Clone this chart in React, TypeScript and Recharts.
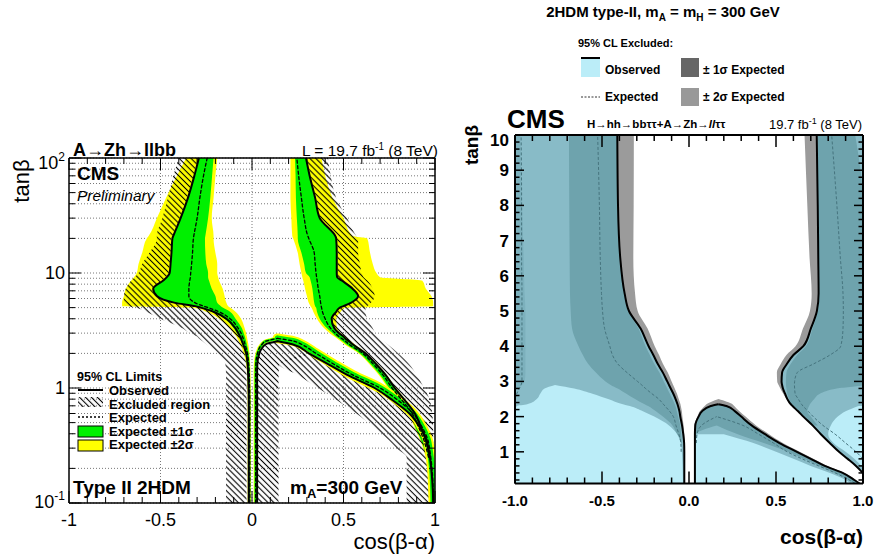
import React from 'react';
import { ComposedChart, Area, Line, XAxis, YAxis, CartesianGrid } from 'recharts';

const FONT = '"Liberation Sans", Arial, Helvetica, sans-serif';
const nul = (n: number) => Array(n).fill(null);
const rep = (v: any, n: number) => Array(n).fill(v);
const rng = (p: any) => (p ? p : [null, null]);

// ---------------- ticks ----------------
const xTicks = [-1, -0.9, -0.8, -0.7, -0.6, -0.5, -0.4, -0.3, -0.2, -0.1, 0, 0.1, 0.2, 0.3, 0.4, 0.5, 0.6, 0.7, 0.8, 0.9, 1];
const xMajors = [-1, -0.5, 0, 0.5, 1];
const leftXLabels = ['-1', '-0.5', '0', '0.5', '1'];
const rightXLabels = ['-1.0', '-0.5', '0.0', '0.5', '1.0'];
const leftYTicks = [0.1, 0.2, 0.3, 0.4, 0.5, 0.6, 0.7, 0.8, 0.9, 1, 2, 3, 4, 5, 6, 7, 8, 9, 10, 20, 30, 40, 50, 60, 70, 80, 90, 100];
const leftYMajors = [0.1, 1, 10, 100];
const leftYLabelBase = ['10', '1', '10', '10'];
const leftYLabelSup = ['-1', '', '', '2'];
const leftYLabelDy = [5, 6, 6, 11];
const rightYTicks = Array.from({ length: 50 }, (_, i) => Math.round((i + 1) * 2) / 10);
const rightYMajors = [1, 2, 3, 4, 5, 6, 7, 8, 9, 10];
const rightYLabels = ['1', '2', '3', '4', '5', '6', '7', '8', '9', '10'];
const rightYLabelDy = [6, 6, 6, 6, 6, 6, 6, 6, 6, 11];

// ---------------- left panel data (A->Zh->llbb), x = cos(b-a) ranges at each tanb ----------------
const leftY = [0.1, 0.13, 0.18, 0.25, 0.3, 0.35, 0.45, 0.6, 0.8, 1, 1.3, 1.6, 2, 2.4, 2.55, 2.7, 2.8, 3, 3.3, 4, 4.6, 5, 5.15, 5.5, 6.3, 7.3, 8.6, 9.2, 10, 12, 15, 20, 21, 30, 45, 70, 100];

const obsL = [...rep(-0.018, 9), -0.019, -0.021, -0.024, -0.032, -0.048, -0.055, -0.06, -0.065, -0.075, -0.09, -0.14, -0.21, -0.28, -0.31, -0.42, -0.52, -0.54, -0.485, -0.465, -0.45, -0.445, -0.44, -0.435, -0.43, -0.39, -0.35, -0.315, -0.29];
const expL = [...rep(-0.012, 9), -0.013, -0.015, -0.018, -0.025, -0.038, -0.043, -0.048, -0.052, -0.06, -0.075, -0.12, -0.18, -0.24, -0.265, -0.31, -0.345, -0.345, -0.34, -0.337, -0.335, -0.33, -0.325, -0.32, -0.318, -0.3, -0.285, -0.265, -0.245];
const s1L = [...rep([-0.021, -0.009], 9), [-0.022, -0.01], [-0.024, -0.011], [-0.028, -0.013],
  [-0.037, -0.018], [-0.053, -0.028], [-0.06, -0.032], [-0.066, -0.036], [-0.072, -0.039],
  [-0.082, -0.045], [-0.1, -0.055], [-0.15, -0.09], [-0.22, -0.12],
  [-0.29, -0.16], [-0.31, -0.17], [-0.42, -0.19],
  [-0.52, -0.2], [-0.54, -0.22], [-0.485, -0.235], [-0.465, -0.24],
  [-0.45, -0.24], [-0.445, -0.25], [-0.44, -0.255], [-0.435, -0.257], [-0.43, -0.255],
  [-0.39, -0.24], [-0.35, -0.228], [-0.315, -0.218], [-0.29, -0.21]];
const s2L = [...rep([-0.024, -0.006], 9), [-0.025, -0.007], [-0.027, -0.008], [-0.032, -0.01],
  [-0.045, -0.014], [-0.065, -0.02], [-0.072, -0.023], [-0.08, -0.026], [-0.085, -0.028],
  [-0.1, -0.032], [-0.12, -0.04], [-0.18, -0.06], [-0.25, -0.09],
  [-0.33, -0.12], [-0.71, -0.13], [-0.71, -0.14],
  [-0.7, -0.15], [-0.69, -0.16], [-0.66, -0.18], [-0.645, -0.185],
  [-0.63, -0.19], [-0.62, -0.19], [-0.6, -0.2], [-0.575, -0.21], [-0.565, -0.21],
  [-0.52, -0.22], [-0.47, -0.21], [-0.41, -0.2], [-0.36, -0.19]];
const hatchL = [...rep([-0.142, -0.03], 11), [-0.145, -0.032],
  [-0.19, -0.04], [-0.25, -0.055], [-0.27, -0.06], [-0.29, -0.065], [-0.3, -0.07],
  [-0.34, -0.08], [-0.38, -0.095], [-0.5, -0.145], [-0.58, -0.215],
  [-0.64, -0.285], [-0.68, -0.315], [-0.7, -0.425],
  [-0.7, -0.525], [-0.69, -0.545], [-0.66, -0.49], [-0.64, -0.47],
  [-0.62, -0.455], [-0.6, -0.45], [-0.56, -0.445], [-0.52, -0.44], [-0.52, -0.435],
  [-0.49, -0.395], [-0.46, -0.355], [-0.43, -0.32], [-0.4, -0.295]];

const obsR = [...nul(3), 0.972, 0.962, 0.95, 0.925, 0.89, 0.83, 0.78, 0.73, 0.68, 0.62, 0.55, 0.53, 0.51, 0.5, 0.475, 0.45, 0.435, 0.46, 0.48, 0.5, 0.54, 0.58, 0.55, 0.49, 0.465, 0.463, 0.463, 0.463, 0.46, 0.455, 0.37, 0.345, 0.315, 0.295];
const expR = [...nul(3), 0.965, 0.952, 0.94, 0.912, 0.875, 0.815, 0.765, 0.715, 0.665, 0.605, 0.53, 0.51, 0.49, 0.475, 0.455, 0.43, 0.4, 0.385, 0.38, 0.378, 0.375, 0.37, 0.362, 0.356, 0.353, 0.35, 0.345, 0.34, 0.31, 0.305, 0.285, 0.27, 0.255, 0.245];
const s1R = [...nul(3),
  [0.955, 0.975], [0.94, 0.965], [0.925, 0.953], [0.895, 0.928], [0.86, 0.893], [0.8, 0.833],
  [0.75, 0.783], [0.7, 0.733], [0.65, 0.683],
  [0.59, 0.623], [0.515, 0.553], [0.495, 0.533], [0.475, 0.513], [0.46, 0.503],
  [0.44, 0.478], [0.41, 0.453], [0.37, 0.44], [0.355, 0.463],
  [0.35, 0.483], [0.345, 0.503], [0.34, 0.543],
  [0.335, 0.583], [0.33, 0.553], [0.32, 0.493], [0.315, 0.468],
  [0.295, 0.466], [0.285, 0.466], [0.27, 0.466], [0.25, 0.463], [0.25, 0.458],
  [0.245, 0.373], [0.24, 0.348], [0.238, 0.318], [0.235, 0.298]];
const s2R = [...nul(3),
  [0.95, 0.98], [0.935, 0.97], [0.92, 0.958], [0.89, 0.932], [0.853, 0.897], [0.793, 0.837],
  [0.743, 0.787], [0.693, 0.737], [0.643, 0.687],
  [0.583, 0.627], [0.505, 0.56], [0.485, 0.54], [0.465, 0.52], [0.45, 0.51],
  [0.425, 0.485], [0.395, 0.465], [0.355, 0.46], [0.335, 0.485],
  [0.325, 0.51], [0.32, 0.99], [0.31, 0.99],
  [0.3, 0.98], [0.29, 0.95], [0.28, 0.93], [0.275, 0.7],
  [0.27, 0.68], [0.26, 0.66], [0.25, 0.645], [0.225, 0.63], [0.22, 0.55],
  [0.215, 0.5], [0.21, 0.44], [0.21, 0.4], [0.21, 0.38]];
const hatchR = [...nul(3),
  [0.976, 0.99], [0.966, 0.99], [0.955, 0.99], [0.93, 0.99], [0.895, 0.985], [0.835, 0.97],
  [0.785, 0.94], [0.735, 0.9], [0.685, 0.86],
  [0.625, 0.8], [0.555, 0.74], [0.535, 0.72], [0.515, 0.7], [0.505, 0.69],
  [0.48, 0.675], [0.455, 0.66], [0.44, 0.63], [0.465, 0.62],
  [0.485, 0.62], [0.505, 0.63], [0.545, 0.65],
  [0.585, 0.67], [0.555, 0.66], [0.495, 0.63], [0.47, 0.61],
  [0.468, 0.6], [0.468, 0.59], [0.468, 0.58], [0.465, 0.58], [0.46, 0.57],
  [0.375, 0.52], [0.35, 0.46], [0.32, 0.43], [0.3, 0.415]];

const bumpObsL = [...rep(0.028, 11), 0.029, 0.04, 0.075, 0.14, ...nul(22)];
const bumpObsR = [0.99, 0.988, 0.982, 0.972, 0.963, 0.955, 0.92, 0.86, 0.76, 0.67, 0.52, 0.42, 0.31, 0.22, 0.14, ...nul(22)];
const bumpExpL = [...rep(0.02, 11), 0.021, 0.03, 0.055, 0.075, 0.14, ...nul(21)];
const bumpExpR = [0.992, 0.99, 0.986, 0.977, 0.97, 0.962, 0.932, 0.88, 0.79, 0.7, 0.55, 0.45, 0.35, 0.27, 0.23, 0.14, ...nul(21)];
const hatchB1 = [...rep([0.032, 0.145], 11), [0.032, 0.15], [0.044, 0.305], [0.08, 0.215], [0.14, 0.14], ...nul(22)];
const hatchB2 = [[0.845, 0.988], [0.845, 0.986], [0.845, 0.98], [0.845, 0.97], [0.79, 0.96], [0.75, 0.952], [0.67, 0.917], [0.57, 0.857], [0.455, 0.757], [0.36, 0.667], [0.25, 0.517], [0.15, 0.417], [0.3, 0.307], ...nul(24)];

const leftData = leftY.map((y, i) => ({
  y,
  obsL: obsL[i], expL: expL[i], s1L: rng(s1L[i]), s2L: rng(s2L[i]), hatchL: rng(hatchL[i]),
  obsR: obsR[i], expR: expR[i], s1R: rng(s1R[i]), s2R: rng(s2R[i]), hatchR: rng(hatchR[i]),
  bObsL: bumpObsL[i], bObsR: bumpObsR[i], bExpL: bumpExpL[i], bExpR: bumpExpR[i],
  hB1: rng(hatchB1[i]), hB2: rng(hatchB2[i]),
}));

// ---------------- right panel data (combination), linear tanb ----------------
const rightY = [0.1, 0.2, 0.4, 0.6, 0.8, 1.0, 1.25, 1.5, 1.75, 2.0, 2.15, 2.3, 2.35, 2.5, 2.65, 2.8, 2.9, 3.0, 3.25, 3.5, 3.75, 4.0, 4.5, 5.0, 5.5, 6.5, 8, 10];

const rObsL = [...rep(-0.027, 6), -0.028, -0.033, -0.04, -0.05, -0.055, -0.063, -0.066, -0.077, -0.09, -0.105, -0.115, -0.125, -0.15, -0.18, -0.205, -0.232, -0.278, -0.345, -0.37, -0.395, -0.408, -0.412];
const rExpL = [...nul(5), -0.045, -0.047, -0.058, -0.075, -0.09, -0.111, -0.138, -0.147, -0.174, -0.213, -0.25, -0.272, -0.296, -0.356, -0.41, -0.44, -0.455, -0.485, -0.497, -0.503, -0.51, -0.515, -0.525];
const rExpL2 = [...nul(13), -1.0, -0.99, -0.975, -0.965, -0.96, -0.96, -0.96, -0.96, -0.96, -0.96, -0.96, -0.96, -0.962, -0.962, -0.965];
const rGrayL = [...nul(5), [-0.027, -0.025], [-0.028, -0.024], [-0.033, -0.027], [-0.04, -0.031], [-0.05, -0.038], [-0.055, -0.041], [-0.063, -0.047], [-0.066, -0.049], [-0.077, -0.059], [-0.09, -0.069], [-0.105, -0.082], [-0.115, -0.091], [-0.125, -0.1], [-0.15, -0.122], [-0.18, -0.15], [-0.205, -0.172], [-0.232, -0.197], [-0.278, -0.238], [-0.345, -0.295], [-0.37, -0.31], [-0.395, -0.32], [-0.408, -0.318], [-0.412, -0.317]];
const rDarkL = [...nul(6), [-0.055, -0.042], [-0.07, -0.045], [-0.095, -0.05], [-0.15, -0.063], [-0.19, -0.07], [-0.235, -0.078], [-0.255, -0.082], [-0.31, -0.095], [-0.36, -0.11], [-0.41, -0.125], [-0.45, -0.135], [-0.48, -0.145], [-0.535, -0.17], [-0.58, -0.2], [-0.61, -0.225], [-0.635, -0.25], [-0.672, -0.29], [-0.68, -0.35], [-0.684, -0.37], [-0.686, -0.395], [-0.688, -0.408], [-0.69, -0.412]];
const rEdgeL = [...nul(15), [-1, -0.985], [-1, -0.96], [-1, -0.945], [-1, -0.94], [-1, -0.94], [-1, -0.94], [-1, -0.94], [-1, -0.94], [-1, -0.94], [-1, -0.945], [-1, -0.95], [-1, -0.96], [-1, -0.97]];
const rCyanL = [[-1, -0.035], [-1, -0.035], [-1, -0.036], [-1, -0.037], [-1, -0.039], [-1, -0.041], [-1, -0.047], [-1, -0.068], [-1, -0.115], [-1, -0.2], [-1, -0.265], [-0.99, -0.34], [-0.93, -0.38], [-0.875, -0.465], [-0.855, -0.555], [-0.83, -0.66], [-0.77, -0.77], ...nul(11)];

const rObsR = [null, null, 0.999, 0.96, 0.912, 0.862, 0.809, 0.758, 0.71, 0.657, 0.627, 0.595, 0.585, 0.565, 0.552, 0.54, 0.535, 0.532, 0.535, 0.563, 0.6, 0.657, 0.7, 0.735, 0.745, 0.743, 0.74, 0.734];
const rExpR = [...nul(4), 1.0, 0.96, 0.9, 0.84, 0.77, 0.714, 0.685, 0.655, 0.647, 0.628, 0.61, 0.607, 0.606, 0.607, 0.622, 0.717, 0.81, 0.872, 0.885, 0.887, 0.885, 0.87, 0.85, 0.82];
const rGrayR = [...nul(13), [0.56, 0.565], [0.542, 0.552], [0.525, 0.54], [0.515, 0.535], [0.507, 0.532], [0.505, 0.535], [0.528, 0.563], [0.56, 0.6], [0.612, 0.657], [0.655, 0.7], [0.695, 0.735], [0.705, 0.745], [0.693, 0.743], [0.68, 0.74], [0.664, 0.734]];
const rDarkR = [...nul(8), [0.715, 0.74], [0.662, 0.7], [0.632, 0.68], [0.6, 0.69], [0.59, 0.695], [0.575, 0.72], [0.565, 0.752], [0.56, 0.849], [0.557, 1], [0.557, 1], [0.56, 1], [0.585, 1], [0.622, 1], [0.672, 1], [0.71, 1], [0.74, 1], [0.75, 1], [0.748, 1], [0.745, 1], [0.74, 0.955]];
const rCyanR = [...nul(3), [0.99, 1], [0.95, 1], [0.9, 1], [0.83, 1], [0.8, 1], [0.815, 1], [0.855, 1], [0.9, 1], [0.975, 1], ...nul(16)];

const rObsBL = [...rep(0.034, 8), 0.036, 0.055, 0.075, 0.125, 0.168, ...nul(15)];
const rObsBR = [0.98, 0.95, 0.883, 0.78, 0.7, 0.62, 0.52, 0.437, 0.36, 0.3, 0.265, 0.215, 0.168, ...nul(15)];
const rGrayB = [[0.03, 0.99], [0.03, 0.96], [0.03, 0.895], [0.03, 0.795], [0.03, 0.715], [0.03, 0.637], [0.03, 0.54], [0.03, 0.46], [0.031, 0.385], [0.048, 0.325], [0.062, 0.29], [0.09, 0.26], [0.1, 0.25], [0.17, 0.17], ...nul(14)];
const rMedB = [[0.036, 0.95], [0.036, 0.92], [0.036, 0.84], [0.036, 0.75], [0.036, 0.66], [0.036, 0.57], [0.036, 0.43], [0.04, 0.28], [0.16, 0.16], ...nul(19)];
const rCyanB = [[0.036, 0.93], [0.036, 0.9], [0.036, 0.81], [0.036, 0.7], [0.036, 0.6], [0.036, 0.5], [0.036, 0.37], [0.05, 0.2], ...nul(20)];
const rExpBL = [...nul(6), 0.042, 0.046, 0.072, 0.159, ...nul(18)];
const rExpBR = [0.955, 0.92, 0.84, 0.745, 0.65, 0.565, 0.485, 0.4, 0.31, 0.159, ...nul(18)];

const rightData = rightY.map((y, i) => ({
  y,
  obsL: rObsL[i], expL: rExpL[i], expL2: rExpL2[i], obsR: rObsR[i], expR: rExpR[i],
  obsBL: rObsBL[i], obsBR: rObsBR[i], expBL: rExpBL[i], expBR: rExpBR[i],
  grayL: rng(rGrayL[i]), grayR: rng(rGrayR[i]), grayB: rng(rGrayB[i]),
  medL: [-1, rObsL[i]], medR: rObsR[i] == null ? [null, null] : [rObsR[i], 1],
  darkB: rObsBL[i] == null ? [null, null] : [rObsBL[i], rObsBR[i]],
  darkL: rng(rDarkL[i]), darkR: rng(rDarkR[i]), edgeL: rng(rEdgeL[i]),
  medB: rng(rMedB[i]), cyanL: rng(rCyanL[i]), cyanR: rng(rCyanR[i]), cyanB: rng(rCyanB[i]),
}));

// ---------------- colours ----------------
const YEL = '#ffff00';
const GRN = '#00f000';
const CYAN = '#bbedf8';
const MED = '#88bbc7';
const DARK = '#6ea3ad';
const EDGE = '#7cb0bc';
const GRAY = '#9b9b9b';

// ---------------- tick renderer ----------------
type LabelFn = (i: number, x: number, y: number) => React.ReactNode;
function makeTick(side: string, majors: number[], majorLen: number, minorLen: number, sw: number, labelFn?: LabelFn) {
  return (props: any) => {
    const { x, y, payload } = props;
    const v = payload ? payload.value : NaN;
    const idx = majors.findIndex((m) => Math.abs(m - v) < 1e-6);
    const len = idx >= 0 ? majorLen : minorLen;
    let x2 = x;
    let y2 = y;
    if (side === 'left') x2 = x + len;
    if (side === 'right') x2 = x - len;
    if (side === 'bottom') y2 = y - len;
    if (side === 'top') y2 = y + len;
    return (
      <g>
        <line x1={x} y1={y} x2={x2} y2={y2} stroke="#000" strokeWidth={sw} />
        {idx >= 0 && labelFn ? labelFn(idx, x, y) : null}
      </g>
    );
  };
}

const LTick = {
  bottom: makeTick('bottom', xMajors, 12, 6, 1, (i, x, y) => (
    <text x={x} y={y + 23} textAnchor="middle" fontSize={18} fontFamily={FONT} fill="#000">{leftXLabels[i]}</text>
  )),
  top: makeTick('top', xMajors, 12, 6, 1),
  left: makeTick('left', leftYMajors, 12, 6, 1, (i, x, y) => (
    <text x={x - 4} y={y + leftYLabelDy[i]} textAnchor="end" fontSize={18} fontFamily={FONT} fill="#000">
      {leftYLabelBase[i]}
      {leftYLabelSup[i] ? <tspan dy={-8} fontSize={12}>{leftYLabelSup[i]}</tspan> : null}
    </text>
  )),
  right: makeTick('right', leftYMajors, 12, 6, 1),
};

const RTick = {
  bottom: makeTick('bottom', xMajors, 12, 6, 1.5, (i, x, y) => (
    <text x={x} y={y + 22.5} textAnchor="middle" fontSize={15} fontWeight="bold" fontFamily={FONT} fill="#000">{rightXLabels[i]}</text>
  )),
  top: makeTick('top', xMajors, 12, 6, 1.5),
  left: makeTick('left', rightYMajors, 9, 4.5, 1.5, (i, x, y) => (
    <text x={x - 6} y={y + rightYLabelDy[i]} textAnchor="end" fontSize={17} fontWeight="bold" fontFamily={FONT} fill="#000">{rightYLabels[i]}</text>
  )),
  right: makeTick('right', rightYMajors, 9, 4.5, 1.5),
};

const axBase = { interval: 0 as const, tickSize: 0, tickMargin: 0, tickLine: false, allowDataOverflow: true };

function LeftPanel() {
  const ax = { xAxisId: 'b', yAxisId: 'l' };
  const A = (k: string, fill: string) => (
    <Area key={'a' + k} {...ax} dataKey={k} type="monotone" fill={fill} fillOpacity={1} stroke="none" isAnimationActive={false} />
  );
  const L = (k: string, stroke: string, w: number, dash?: string, id?: string) => (
    <Line key={'l' + k + (id || '')} {...ax} dataKey={k} type="monotone" stroke={stroke} strokeWidth={w} strokeDasharray={dash} strokeLinecap="round" dot={false} activeDot={false} isAnimationActive={false} />
  );
  return (
    <ComposedChart layout="vertical" width={450} height={560} data={leftData} margin={{ top: 148, right: 5, bottom: 27, left: 29 }}>
      <defs>
        <pattern id="hatchPat" patternUnits="userSpaceOnUse" width="4.2" height="4.2" patternTransform="rotate(-45)">
          <line x1="2.1" y1="0" x2="2.1" y2="4.2" stroke="#000" strokeWidth="1.1" />
        </pattern>
      </defs>
      <CartesianGrid xAxisId="b" yAxisId="l" verticalValues={[-0.5, 0, 0.5]} stroke="#555" strokeDasharray="1 2" strokeWidth={0.8} />
      <XAxis xAxisId="b" type="number" domain={[-1, 1]} ticks={xTicks} height={30} {...axBase} axisLine={{ stroke: '#000', strokeWidth: 1.5 }} tick={LTick.bottom} />
      <XAxis xAxisId="t" orientation="top" type="number" domain={[-1, 1]} ticks={xTicks} height={10} {...axBase} axisLine={{ stroke: '#000', strokeWidth: 1.5 }} tick={LTick.top} />
      <YAxis yAxisId="l" reversed type="number" dataKey="y" scale="log" domain={[0.1, 100]} ticks={leftYTicks} width={40} {...axBase} axisLine={{ stroke: '#000', strokeWidth: 1.5 }} tick={LTick.left} />
      <YAxis yAxisId="r" reversed orientation="right" type="number" dataKey="y" scale="log" domain={[0.1, 100]} ticks={leftYTicks} width={10} {...axBase} axisLine={{ stroke: '#000', strokeWidth: 1.5 }} tick={LTick.right} />
      {A('s2L', YEL)}
      {A('s2R', YEL)}
      {A('s1L', GRN)}
      {A('s1R', GRN)}
      {A('hatchL', 'url(#hatchPat)')}
      {A('hatchR', 'url(#hatchPat)')}
      {A('hB1', 'url(#hatchPat)')}
      {A('hB2', 'url(#hatchPat)')}
      {L('bExpR', YEL, 10, undefined, 'y')}
      {L('bExpL', YEL, 4, undefined, 'y')}
      {L('bExpR', GRN, 6, undefined, 'g')}
      {L('bExpL', GRN, 2.5, undefined, 'g')}
      {L('expL', '#000', 1.3, '3 2.5')}
      {L('expR', '#000', 1.3, '3 2.5')}
      {L('bExpL', '#000', 1.3, '3 2.5', 'd')}
      {L('bExpR', '#000', 1.3, '3 2.5', 'd')}
      {L('obsL', '#000', 2)}
      {L('obsR', '#000', 2)}
      {L('bObsL', '#000', 2)}
      {L('bObsR', '#000', 2)}
    </ComposedChart>
  );
}

function RightPanel() {
  const ax = { xAxisId: 'b', yAxisId: 'l' };
  const A = (k: string, fill: string) => (
    <Area key={'a' + k} {...ax} dataKey={k} type="monotone" fill={fill} fillOpacity={1} stroke="none" isAnimationActive={false} />
  );
  const L = (k: string, stroke: string, w: number, dash?: string) => (
    <Line key={'l' + k} {...ax} dataKey={k} type="monotone" stroke={stroke} strokeWidth={w} strokeDasharray={dash} dot={false} activeDot={false} isAnimationActive={false} />
  );
  return (
    <ComposedChart layout="vertical" width={420} height={460} data={rightData} margin={{ top: 25, right: 2, bottom: 46.5, left: 20 }}>
      <XAxis xAxisId="b" type="number" domain={[-1, 1]} ticks={xTicks} height={30} {...axBase} axisLine={{ stroke: '#000', strokeWidth: 2 }} tick={RTick.bottom} />
      <XAxis xAxisId="t" orientation="top" type="number" domain={[-1, 1]} ticks={xTicks} height={10} {...axBase} axisLine={{ stroke: '#000', strokeWidth: 2 }} tick={RTick.top} />
      <YAxis yAxisId="l" reversed type="number" dataKey="y" domain={[0.1, 10]} ticks={rightYTicks} width={40} {...axBase} axisLine={{ stroke: '#000', strokeWidth: 2 }} tick={RTick.left} />
      <YAxis yAxisId="r" reversed orientation="right" type="number" dataKey="y" domain={[0.1, 10]} ticks={rightYTicks} width={10} {...axBase} axisLine={{ stroke: '#000', strokeWidth: 2 }} tick={RTick.right} />
      {A('grayL', GRAY)}
      {A('grayR', GRAY)}
      {A('grayB', GRAY)}
      {A('medL', MED)}
      {A('medR', MED)}
      {A('darkB', DARK)}
      {A('darkL', DARK)}
      {A('darkR', DARK)}
      {A('edgeL', EDGE)}
      {A('medB', MED)}
      {A('cyanL', CYAN)}
      {A('cyanR', CYAN)}
      {A('cyanB', CYAN)}
      {L('expL', '#46747e', 1, '3 2')}
      {L('expL2', '#46747e', 1, '3 2')}
      {L('expR', '#46747e', 1, '3 2')}
      {L('expBL', '#46747e', 1, '3 2')}
      {L('expBR', '#46747e', 1, '3 2')}
      {L('obsL', '#000', 2)}
      {L('obsR', '#000', 2)}
      {L('obsBL', '#000', 2)}
      {L('obsBR', '#000', 2)}
    </ComposedChart>
  );
}

const T = (p: { x: number; y: number; fs: number; b?: boolean; i?: boolean; a?: string; children: React.ReactNode }) => (
  <text x={p.x} y={p.y} fontSize={p.fs} fontWeight={p.b ? 'bold' : 'normal'} fontStyle={p.i ? 'italic' : 'normal'} textAnchor={p.a || 'start'} fontFamily={FONT} fill="#000">
    {p.children}
  </text>
);

function Overlay() {
  return (
    <svg width={875} height={560} style={{ position: 'absolute', left: 0, top: 0, pointerEvents: 'none' }}>
      <defs>
        <pattern id="hatchLeg" patternUnits="userSpaceOnUse" width="4.2" height="4.2" patternTransform="rotate(-45)">
          <line x1="2.1" y1="0" x2="2.1" y2="4.2" stroke="#000" strokeWidth="1.1" />
        </pattern>
      </defs>
      {/* left panel texts */}
      <T x={73} y={156} fs={18} b>A→Zh→llbb</T>
      <T x={438} y={156} fs={15.5} a="end">L = 19.7 fb<tspan dy={-6} fontSize={10}>-1</tspan><tspan dy={6}>  (8 TeV)</tspan></T>
      <text transform="translate(29,181) rotate(-90)" textAnchor="middle" fontSize={22} fontFamily={FONT} fill="#000">tanβ</text>
      <T x={77} y={180} fs={19} b>CMS</T>
      <T x={77} y={201} fs={15.5} i>Preliminary</T>
      <T x={77} y={381} fs={12.5} b>95% CL Limits</T>
      <line x1={78} y1={390} x2={103} y2={390} stroke="#000" strokeWidth={2} />
      <rect x={78} y={397} width={25} height={10} fill="url(#hatchLeg)" />
      <line x1={78} y1={417} x2={103} y2={417} stroke="#000" strokeWidth={1.3} strokeDasharray="2 2" />
      <rect x={78} y={426} width={25} height={11} fill={GRN} stroke="#000" strokeWidth={1} />
      <rect x={78} y={440} width={25} height={11} fill={YEL} stroke="#000" strokeWidth={1} />
      <T x={109} y={395} fs={13} b>Observed</T>
      <T x={109} y={408.5} fs={13} b>Excluded region</T>
      <T x={109} y={422} fs={13} b>Expected</T>
      <T x={109} y={435.5} fs={13} b>Expected ±1σ</T>
      <T x={109} y={449} fs={13} b>Expected ±2σ</T>
      <T x={73} y={494} fs={19} b>Type II 2HDM</T>
      <T x={290} y={494} fs={19} b>m<tspan dy={4} fontSize={13}>A</tspan><tspan dy={-4}>=300 GeV</tspan></T>
      <T x={435} y={549} fs={22} a="end">cos(β-α)</T>

      {/* right panel texts */}
      <T x={663} y={17} fs={15} b a="middle">2HDM type-II, m<tspan dy={4} fontSize={10}>A</tspan><tspan dy={-4}> = m</tspan><tspan dy={4} fontSize={10}>H</tspan><tspan dy={-4}> = 300 GeV</tspan></T>
      <T x={578} y={47} fs={11} b>95% CL Excluded:</T>
      <rect x={581} y={58} width={19} height={19} fill={CYAN} />
      <line x1={581} y1={58} x2={600} y2={58} stroke="#000" strokeWidth={2} />
      <rect x={681} y={58} width={18} height={19} fill="#666" />
      <line x1={581} y1={97} x2={600} y2={97} stroke="#333" strokeWidth={1} strokeDasharray="2 1.5" />
      <rect x={681} y={88} width={18} height={18} fill="#999" />
      <T x={605} y={74} fs={12} b>Observed</T>
      <T x={703} y={74} fs={12} b>± 1σ Expected</T>
      <T x={605} y={101} fs={12} b>Expected</T>
      <T x={703} y={101} fs={12} b>± 2σ Expected</T>
      <T x={507} y={128} fs={26} b>CMS</T>
      <T x={587} y={128} fs={11.5} b>H→hh→bbττ+A→Zh→<tspan fontStyle="italic">ll</tspan>ττ</T>
      <T x={862} y={129} fs={13} a="end">19.7 fb<tspan dy={-5} fontSize={9}>-1</tspan><tspan dy={5}> (8 TeV)</tspan></T>
      <text transform="translate(478,145) rotate(-90)" textAnchor="middle" fontSize={19} fontWeight="bold" fontFamily={FONT} fill="#000">tanβ</text>
      <T x={863} y={544} fs={21} b a="end">cos(β-α)</T>
    </svg>
  );
}

export default function App() {
  return (
    <div style={{ position: 'absolute', left: 0, top: 0, width: 875, height: 560, background: '#fff', fontFamily: FONT }}>
      <div style={{ position: 'absolute', left: 0, top: 0 }}>
        <LeftPanel />
      </div>
      <div style={{ position: 'absolute', left: 455, top: 100 }}>
        <RightPanel />
      </div>
      <Overlay />
    </div>
  );
}
